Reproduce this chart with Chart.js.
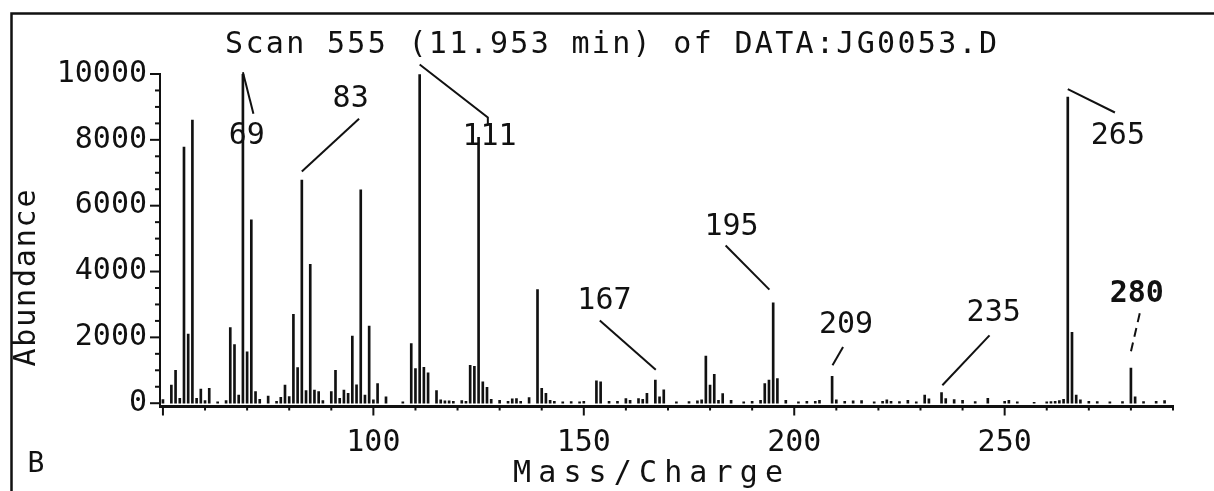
<!DOCTYPE html>
<html>
<head>
<meta charset="utf-8">
<script src="https://cdn.jsdelivr.net/npm/chart.js@4.4.1/dist/chart.umd.min.js"></script>
<style>
  html, body { margin: 0; background: #fff; }
  canvas { display: block; }
</style>
</head>
<body>
<canvas id="spectrum" width="1214" height="491"></canvas>
<script>
// m/z values and their abundances
const masses = [
  50, 52, 53, 54, 55, 56, 57, 58, 59, 60, 61, 63, 65, 66, 67, 68, 69, 70, 71, 72, 73, 75,
  77, 78, 79, 80, 81, 82, 83, 84, 85, 86, 87, 88, 90, 91, 92, 93, 94, 95, 96, 97, 98, 99, 100, 101, 103,
  107, 109, 110, 111, 112, 113, 115, 116, 117, 118, 119, 121, 122, 123, 124, 125, 126, 127, 128,
  130, 132, 133, 134, 135, 137, 139, 140, 141, 142, 143, 145, 147, 149, 150, 153, 154, 156, 158,
  160, 161, 163, 164, 165, 167, 168, 169, 172, 175, 177, 178, 179, 180, 181, 182, 183, 185, 188,
  190, 192, 193, 194, 195, 196, 198, 201, 203, 205, 206, 209, 210, 212, 214, 216, 219, 221, 222,
  223, 225, 227, 229, 231, 232, 235, 236, 238, 240, 243, 246, 250, 251, 253, 257, 260, 261, 262,
  263, 264, 265, 266, 267, 268, 270, 272, 275, 278, 280, 281, 283, 286, 288
];
const abundances = [
  110, 550, 1000, 150, 7780, 2100, 8600, 150, 430, 80, 450, 40, 80, 2300, 1780, 250, 10050, 1560, 5570, 350, 120, 220,
  60, 180, 550, 200, 2700, 1080, 6780, 380, 4220, 400, 350, 80, 350, 1000, 150, 400, 300, 2040, 560, 6480, 250, 2340, 100, 600, 190,
  40, 1810, 1050, 9980, 1090, 920, 380, 100, 70, 70, 60, 80, 60, 1150, 1120, 8080, 650, 480, 120,
  90, 60, 130, 140, 60, 170, 3450, 450, 300, 90, 60, 40, 50, 40, 60, 680, 650, 60, 60,
  140, 90, 140, 120, 300, 700, 190, 410, 40, 50, 70, 100, 1430, 550, 880, 90, 290, 90, 40,
  60, 90, 600, 700, 3050, 750, 90, 40, 60, 60, 90, 820, 100, 60, 70, 80, 40, 60, 100,
  60, 50, 90, 40, 250, 130, 320, 140, 110, 90, 50, 150, 60, 90, 40, 30, 40, 50, 60,
  80, 120, 9300, 2150, 250, 100, 60, 50, 40, 50, 1070, 190, 50, 60, 80
];
const yTickValues = [0, 2000, 4000, 6000, 8000, 10000];
const xTickValues = [100, 150, 200, 250];

// peak labels: text anchor and leader line, both in data units (m/z, abundance)
const peakLabels = ['69', '83', '111', '167', '195', '209', '235', '265', '280'];
const labelAnchors = [
  [69.9, 8120], [94.6, 9240], [127.6, 8090], [154.9, 3090], [185.1, 5360],
  [212.3, 2360], [247.4, 2730], [276.9, 8120], [281.4, 3300]
];
const leaderLines = [
  [[69.0, 10050], [71.5, 8790]],
  [[96.6, 8640], [83.0, 7040]],
  [[111.0, 10290], [127.2, 8680], [127.2, 8450]],
  [[153.8, 2515], [167.1, 1020]],
  [[183.7, 4790], [194.1, 3450]],
  [[211.6, 1710], [209.1, 1150]],
  [[246.4, 2060], [235.2, 545]],
  [[265.0, 9540], [276.2, 8830]],
  [[282.1, 2730], [279.7, 1400]]
];

const INK = '#111';
const FONT = '"DejaVu Sans Mono", "Liberation Mono", monospace';

// draw text stretched to a given width, like the old plotter lettering
function drawSpaced(ctx, text, cx, cy, width) {
  ctx.letterSpacing = '0px';
  const w = ctx.measureText(text).width;
  const ls = (width - w) / (text.length - 1);
  ctx.letterSpacing = ls + 'px';
  ctx.textAlign = 'left';
  ctx.textBaseline = 'middle';
  ctx.fillText(text, cx - width / 2, cy);
  ctx.letterSpacing = '0px';
}

const plotterMarks = {
  id: 'plotterMarks',
  beforeDraw(chart) {
    const ctx = chart.ctx;
    ctx.save();
    ctx.fillStyle = '#fff';
    ctx.fillRect(0, 0, chart.width, chart.height);
    // frame of the printout
    ctx.strokeStyle = INK;
    ctx.lineWidth = 2.5;
    ctx.beginPath();
    ctx.moveTo(11.5, chart.height);
    ctx.lineTo(11.5, 13.5);
    ctx.lineTo(chart.width, 13.5);
    ctx.stroke();
    ctx.restore();
  },
  afterDraw(chart) {
    const ctx = chart.ctx;
    const x = chart.scales.x, y = chart.scales.y;
    const area = chart.chartArea;
    ctx.save();
    ctx.strokeStyle = INK;
    ctx.fillStyle = INK;
    ctx.lineWidth = 2;

    // y ticks: major every 2000, minor every 500
    for (let v = 0; v <= 10000; v += 500) {
      const py = y.getPixelForValue(v);
      const len = v % 2000 === 0 ? 10 : 5;
      ctx.beginPath();
      ctx.moveTo(area.left - len, py);
      ctx.lineTo(area.left, py);
      ctx.stroke();
    }
    // x ticks: major every 50, minor every 10
    for (let v = 50; v <= 290; v += 10) {
      const px = x.getPixelForValue(v);
      const len = v % 50 === 0 ? 9 : 4;
      ctx.beginPath();
      ctx.moveTo(px, area.bottom);
      ctx.lineTo(px, area.bottom + len);
      ctx.stroke();
    }

    // title and axis titles
    ctx.font = '30px ' + FONT;
    drawSpaced(ctx, 'Scan 555 (11.953 min) of DATA:JG0053.D', 611, 45, 772);
    drawSpaced(ctx, 'Mass/Charge', 648, 474, 270);
    ctx.save();
    ctx.translate(27, 278);
    ctx.rotate(-Math.PI / 2);
    drawSpaced(ctx, 'Abundance', 0, 0, 177);
    ctx.restore();
    ctx.font = '28px ' + FONT;
    ctx.textAlign = 'center';
    ctx.textBaseline = 'middle';
    ctx.fillText('B', 36, 465);

    // peak labels with leader lines
    peakLabels.forEach((txt, i) => {
      const [am, aa] = labelAnchors[i];
      ctx.font = (txt === '280' ? 'bold ' : '') + '30px ' + FONT;
      ctx.textAlign = 'center';
      ctx.textBaseline = 'middle';
      ctx.fillText(txt, x.getPixelForValue(am), y.getPixelForValue(aa));
      const pts = leaderLines[i];
      ctx.setLineDash(txt === '280' ? [9, 6] : []);
      ctx.lineWidth = 2;
      ctx.beginPath();
      pts.forEach(([m, a], k) => {
        const px = x.getPixelForValue(m), py = y.getPixelForValue(a);
        if (k === 0) ctx.moveTo(px, py); else ctx.lineTo(px, py);
      });
      ctx.stroke();
    });
    ctx.setLineDash([]);
    ctx.restore();
  }
};

const chart = new Chart(document.getElementById('spectrum'), {
  type: 'bar',
  data: {
    datasets: [{
      data: masses.map((m, i) => ({ x: m, y: abundances[i] })),
      backgroundColor: INK,
      borderWidth: 0,
      barThickness: 2
    }]
  },
  options: {
    responsive: false,
    animation: false,
    devicePixelRatio: 1,
    layout: { padding: { top: 74, right: 41, bottom: 0, left: 0 } },
    plugins: { legend: { display: false }, tooltip: { enabled: false } },
    scales: {
      x: {
        type: 'linear',
        offset: false,
        min: 49.3,
        max: 290,
        grid: { display: false, drawTicks: false },
        border: { color: INK, width: 3 },
        afterFit: s => { s.height = 84.5; },
        afterBuildTicks: s => { s.ticks = xTickValues.map(v => ({ value: v })); },
        ticks: {
          autoSkip: false, maxRotation: 0, padding: 19, color: INK,
          font: { family: FONT, size: 30 },
          callback: v => String(v)
        }
      },
      y: {
        min: -100,
        max: 10000,
        grid: { display: false, drawTicks: false },
        border: { color: INK, width: 2 },
        afterFit: s => { s.width = 160; },
        afterBuildTicks: s => { s.ticks = yTickValues.map(v => ({ value: v })); },
        ticks: {
          padding: 13, color: INK,
          font: { family: FONT, size: 30 },
          callback: v => String(v)
        }
      }
    }
  },
  plugins: [plotterMarks]
});
</script>
</body>
</html>
